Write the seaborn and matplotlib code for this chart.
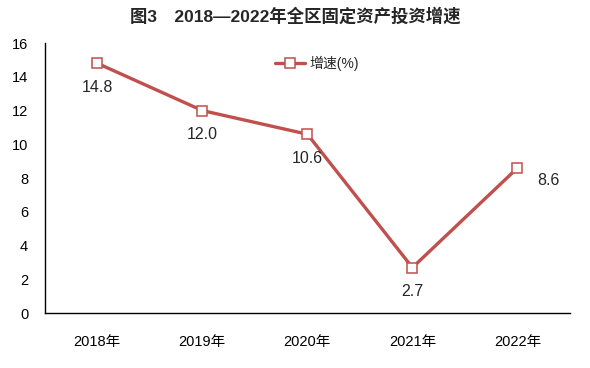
"""Line chart: fixed-asset investment growth 2018-2022."""

import matplotlib

matplotlib.use("Agg")
import matplotlib.pyplot as plt
import pandas as pd
import seaborn as sns

years = ["2018年", "2019年", "2020年", "2021年", "2022年"]
growth = [14.8, 12.0, 10.6, 2.7, 8.6]
series_name = "增速(%)"
title = "图3　2018—2022年全区固定资产投资增速"

sns.set_style("white")
plt.rcParams["font.family"] = ["Liberation Sans", "Noto Sans CJK SC", "DejaVu Sans"]

df = pd.DataFrame({"year": years, "growth": growth})
color = "#C0504D"

fig = plt.figure(figsize=(5.9, 3.68), dpi=100)
ax = fig.add_axes([0.076, 0.149, 0.890, 0.734])

sns.lineplot(
    data=df,
    x="year",
    y="growth",
    ax=ax,
    color=color,
    linewidth=2.4,
    marker="s",
    markersize=6.5,
    markerfacecolor="white",
    markeredgecolor=color,
    markeredgewidth=1.1,
    label=series_name,
    sort=False,
)

# data labels: below the point, except the last one to the right
for i, v in enumerate(growth):
    if i == len(growth) - 1:
        ax.annotate(f"{v:.1f}", (i, v), xytext=(14, -9), textcoords="offset points",
                    ha="left", va="center", fontsize=11.5)
    else:
        ax.annotate(f"{v:.1f}", (i, v), xytext=(0, -12), textcoords="offset points",
                    ha="center", va="top", fontsize=11.5)

ax.set_xlim(-0.5, len(years) - 0.5)
ax.set_ylim(0, 16)
ax.set_yticks(range(0, 17, 2))
ax.set_xlabel("")
ax.set_ylabel("")
ax.tick_params(axis="both", length=0, labelsize=10.5, labelcolor="black")
ax.tick_params(axis="x", pad=16)
ax.tick_params(axis="y", pad=12)
for side in ["top", "right"]:
    ax.spines[side].set_visible(False)
for side in ["left", "bottom"]:
    ax.spines[side].set_color("black")
    ax.spines[side].set_linewidth(1.0)

ax.legend(loc="upper center", bbox_to_anchor=(0.518, 1.0), frameon=False,
          fontsize=10, handlelength=2.2, handletextpad=0.3)

fig.suptitle(title, fontsize=12.5, fontweight="bold", y=0.98,
             family=["Liberation Sans", "Noto Sans CJK SC"])

fig.savefig("out.png", dpi=100)
